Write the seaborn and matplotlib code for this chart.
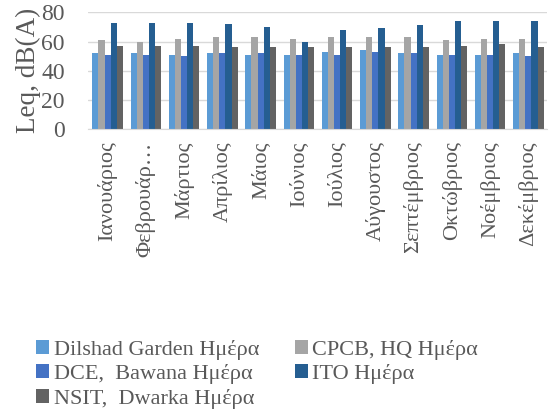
import pandas as pd
import matplotlib.pyplot as plt
import seaborn as sns

months = ['Ιανουάριος', 'Φεβρουάρ…', 'Μάρτιος', 'Απρίλιος', 'Μάιος', 'Ιούνιος',
          'Ιούλιος', 'Αύγουστος', 'Σεπτέμβριος', 'Οκτώβριος', 'Νοέμβριος', 'Δεκέμβριος']
stations = ['Dilshad Garden Ημέρα', 'CPCB, HQ Ημέρα', 'DCE,  Bawana Ημέρα',
            'ITO Ημέρα', 'NSIT,  Dwarka Ημέρα']
dilshad = [52, 52, 51, 52, 51, 51, 53, 54, 52, 51, 51, 52]
cpcb = [61, 60, 62, 63, 63, 62, 63, 63, 63, 61, 62, 62]
dce = [51, 51, 50, 52, 52, 51, 51, 53, 52, 51, 51, 50]
ito = [73, 73, 73, 72, 70, 60, 68, 69, 71, 74, 74, 74]
nsit = [57, 57, 57, 56, 56, 56, 56, 56, 56, 57, 58, 56]
colors = ['#5B9BD5', '#A5A5A5', '#4472C4', '#255E91', '#636363']

series = [dilshad, cpcb, dce, ito, nsit]
rows = []
for st, vals in zip(stations, series):
    for m, v in zip(months, vals):
        rows.append({'month': m, 'station': st, 'value': v})
data = pd.DataFrame(rows)

sns.set_style('white')
plt.rcParams['font.family'] = ['Liberation Serif', 'DejaVu Serif']
txt = '#595959'

fig = plt.figure(figsize=(5.53, 4.12), dpi=100)
ax = fig.add_axes([0.16, 0.687, 0.83, 0.283])
sns.barplot(data=data, x='month', y='value', hue='station', palette=colors,
            width=0.8, ax=ax, saturation=1, edgecolor='none')

ax.set_ylim(0, 80)
ax.set_yticks([0, 20, 40, 60, 80])
ax.set_xlim(-0.5, len(months) - 0.5)
ax.grid(axis='y', color='#D9D9D9', linewidth=1)
ax.set_axisbelow(True)
for s in ['top', 'right', 'left']:
    ax.spines[s].set_visible(False)
ax.spines['bottom'].set_color('#D9D9D9')
ax.tick_params(axis='y', labelsize=17, colors=txt, length=0, pad=17)
ax.tick_params(axis='x', labelsize=16, colors=txt, length=0, rotation=90, pad=9)
ax.set_xlabel('')
ax.set_ylabel('Leq, dB(A)', fontsize=19.5, color=txt, labelpad=0)

handles, labels = ax.get_legend_handles_labels()
ax.get_legend().remove()
order = [0, 2, 4, 1, 3]
fig.legend([handles[i] for i in order], [labels[i] for i in order],
           loc='lower left', bbox_to_anchor=(0.065, 0.008), ncol=2, frameon=False,
           fontsize=16, labelcolor=txt, handlelength=0.6, handleheight=0.6,
           handletextpad=0.2, columnspacing=1.6, labelspacing=0.2,
           borderpad=0, borderaxespad=0)

plt.savefig('out.png', dpi=100)
